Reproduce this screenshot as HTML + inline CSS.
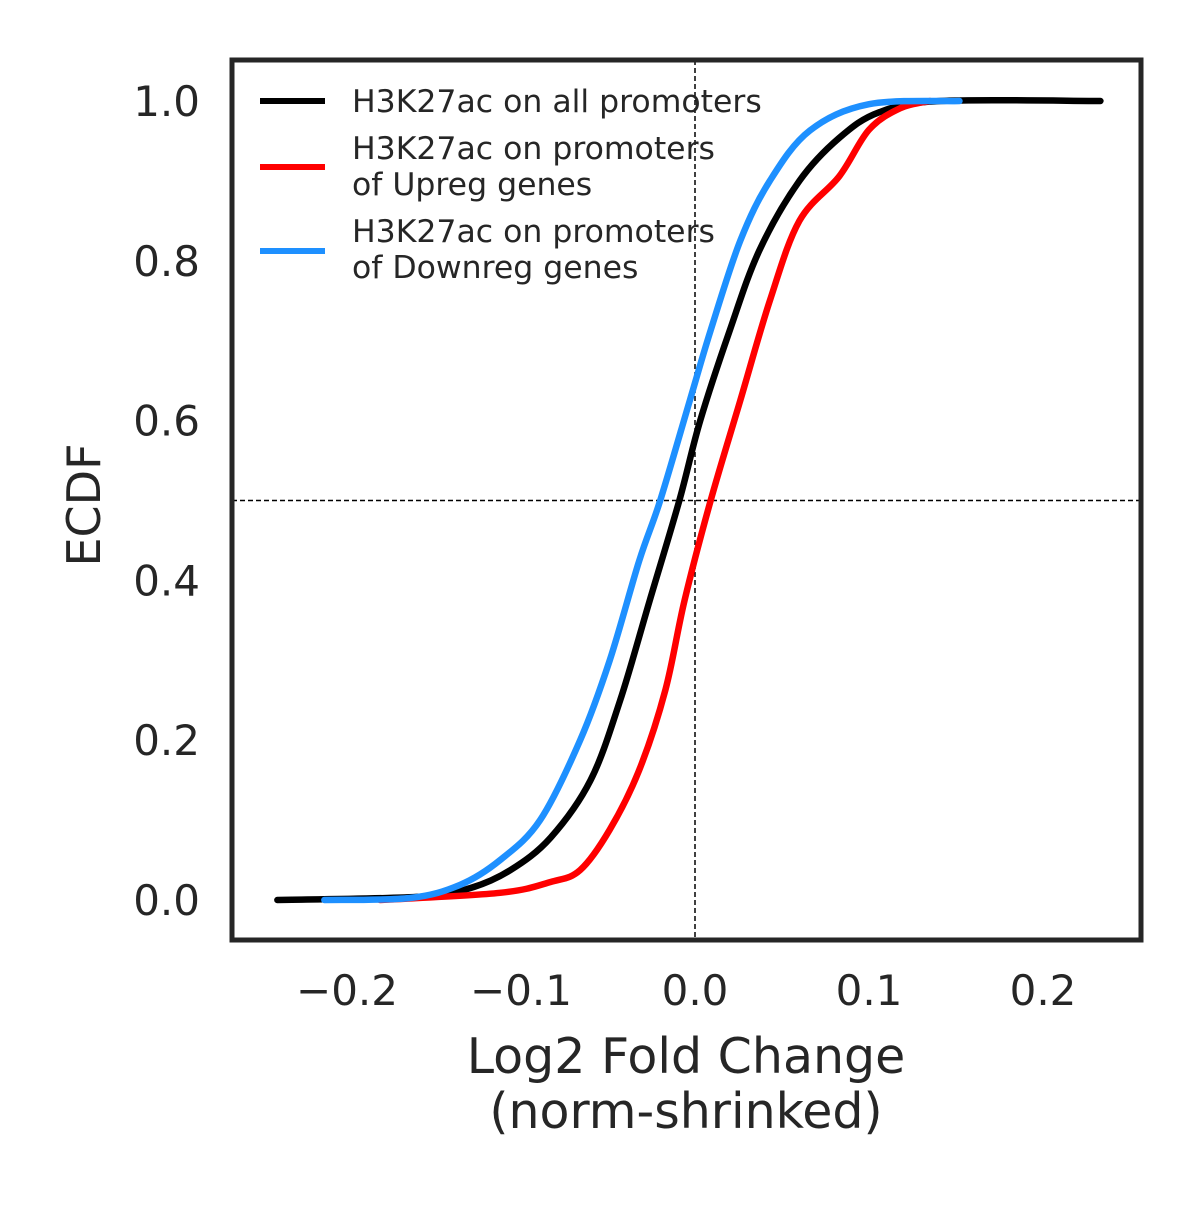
<!DOCTYPE html>
<html><head><meta charset="utf-8"><style>
body{margin:0;background:#fff}
svg text{font-family:"DejaVu Sans","Liberation Sans",sans-serif;fill:#262626}
</style></head><body>
<svg width="1200" height="1200" viewBox="0 0 1200 1200">
<g id="plot"></g>
<rect x="232" y="60" width="909" height="880" fill="none" stroke="#262626" stroke-width="5"/>
<text x="686" y="1073" font-size="49" text-anchor="middle">Log2 Fold Change</text>
<text x="686" y="1128" font-size="49" text-anchor="middle">(norm-shrinked)</text>
<text transform="translate(100,505) rotate(-90)" font-size="46" text-anchor="middle">ECDF</text>
<g>
<line x1="260" y1="101" x2="325" y2="101" stroke="#000" stroke-width="6"/>
<text x="352" y="112" font-size="31.5">H3K27ac on all promoters</text>
<line x1="260" y1="167" x2="325" y2="167" stroke="#ff0000" stroke-width="6"/>
<text x="352" y="159" font-size="31.5">H3K27ac on promoters</text>
<text x="352" y="195" font-size="31.5">of Upreg genes</text>
<line x1="260" y1="251" x2="325" y2="251" stroke="#1e90ff" stroke-width="6"/>
<text x="352" y="242" font-size="31.5">H3K27ac on promoters</text>
<text x="352" y="278" font-size="31.5">of Downreg genes</text>
</g>
</svg>
<script>
const xTicks=[-0.2,-0.1,0.0,0.1,0.2];
const xTickLabels=["\u22120.2","\u22120.1","0.0","0.1","0.2"];
const yTicks=[0,0.2,0.4,0.6,0.8,1.0];
const yTickLabels=["0.0","0.2","0.4","0.6","0.8","1.0"];
const allX=[-0.24,-0.158,-0.129,-0.106,-0.083,-0.06,-0.043,-0.026,-0.009,0.003,0.02,0.037,0.06,0.083,0.106,0.141,0.233];
const allY=[0,0.004,0.015,0.0375,0.078,0.15,0.25,0.375,0.5,0.6,0.713,0.813,0.9,0.954,0.986,1.0,1.0];
const upX=[-0.181,-0.112,-0.083,-0.066,-0.049,-0.032,-0.017,-0.006,0.009,0.026,0.043,0.06,0.083,0.1,0.118,0.135];
const upY=[0,0.009,0.0225,0.0375,0.088,0.163,0.263,0.375,0.5,0.625,0.75,0.85,0.906,0.964,0.991,1.0];
const downX=[-0.213,-0.164,-0.135,-0.112,-0.089,-0.066,-0.049,-0.032,-0.02,-0.003,0.009,0.026,0.043,0.066,0.1,0.152];
const downY=[0,0.0025,0.019,0.05,0.1,0.2,0.3,0.425,0.5,0.625,0.713,0.825,0.9,0.963,0.996,1.0];
const NS="http://www.w3.org/2000/svg";
const sx=v=>695+v*1740;
const sy=v=>900-v*799;
const svg=document.querySelector('svg');
const plot=document.getElementById('plot');
function mk(tag,attrs,parent){const e=document.createElementNS(NS,tag);for(const k in attrs)e.setAttribute(k,attrs[k]);(parent||plot).appendChild(e);return e;}
let l=mk('line',{x1:232,x2:1141,y1:sy(0.5),y2:sy(0.5),stroke:'#000','stroke-width':1.5,'stroke-dasharray':'5,3'});


l=mk('line',{x1:sx(0),x2:sx(0),y1:60,y2:940,stroke:'#000','stroke-width':1.5,'stroke-dasharray':'5,3'});


function series(xs,ys,color,name){
  const P=xs.map((x,i)=>[sx(x),sy(ys[i])]);
  let d='M'+P[0][0]+','+P[0][1];
  for(let i=0;i<P.length-1;i++){
    const p0=P[Math.max(0,i-1)],p1=P[i],p2=P[i+1],p3=P[Math.min(P.length-1,i+2)];
    const c1=[p1[0]+(p2[0]-p0[0])/6,p1[1]+(p2[1]-p0[1])/6];
    const c2=[p2[0]-(p3[0]-p1[0])/6,p2[1]-(p3[1]-p1[1])/6];
    d+=' C'+c1.join(',')+' '+c2.join(',')+' '+p2.join(',');
  }
  const p=mk('path',{d:d,fill:'none',stroke:color,'stroke-width':6.5,'stroke-linejoin':'round','stroke-linecap':'round'});
  
  
}
series(allX,allY,'#000','ecdf-all-promoters');
series(upX,upY,'#ff0000','ecdf-upreg');
series(downX,downY,'#1e90ff','ecdf-downreg');
xTicks.forEach((v,i)=>{
  const t=mk('text',{x:sx(v),y:1005,'font-size':42,'text-anchor':'middle'},svg);
  t.textContent=xTickLabels[i];
  
  
});
yTicks.forEach((v,i)=>{
  const t=mk('text',{x:200,y:sy(v)+15,'font-size':42,'text-anchor':'end'},svg);
  t.textContent=yTickLabels[i];
  
  
});
</script>
</body></html>
